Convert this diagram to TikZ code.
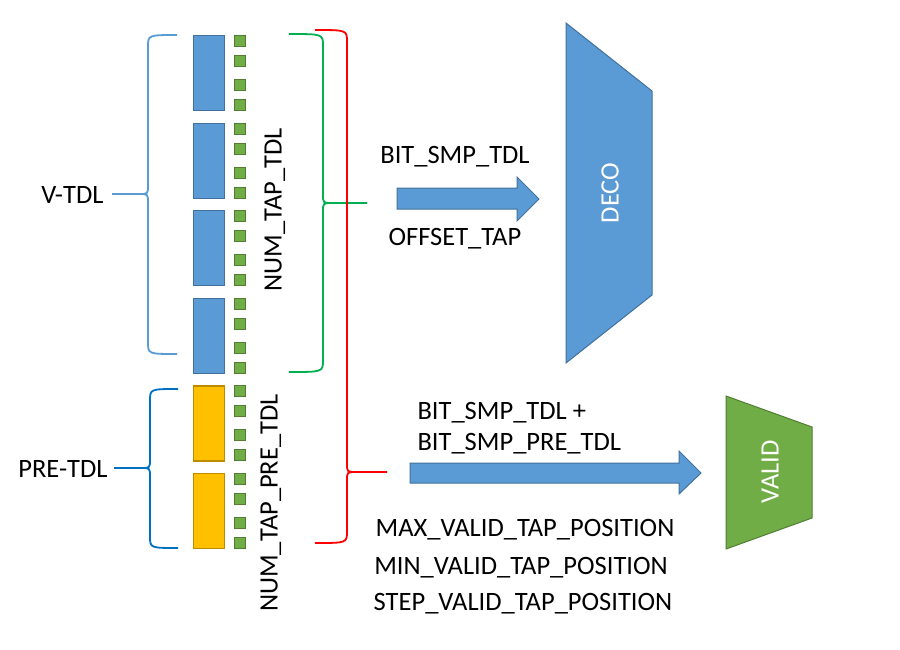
\documentclass[tikz,border=0pt]{standalone}
\usepackage{fontspec}
\setmainfont{Carlito}
\usepackage{tikz}

\definecolor{tdlblue}{RGB}{91,155,213}
\definecolor{tdlblueline}{RGB}{65,113,156}
\definecolor{pregold}{RGB}{255,192,0}
\definecolor{pregoldline}{RGB}{188,140,0}
\definecolor{tapgreen}{RGB}{112,173,71}
\definecolor{tapgreenline}{RGB}{80,126,50}
\definecolor{bracegreen}{RGB}{0,176,80}
\definecolor{braceblue}{RGB}{0,112,192}

% colour, arm x, spine x, top y, bottom y, tip y, tip x, side
\newcommand{\tapbrace}[8]{%
  \draw[#1,line width=1.8pt] (#2,#4) .. controls (#3,#4) .. (#3,#4+12) -- (#3,#6-9)
     .. controls (#3,#6) .. (#3+9*#8,#6) -- (#7,#6);
  \draw[#1,line width=1.8pt] (#2,#5) .. controls (#3,#5) .. (#3,#5-12) -- (#3,#6+9)
     .. controls (#3,#6) .. (#3+9*#8,#6);
}

\begin{document}
\begin{tikzpicture}[x=1pt,y=-1pt,font=\fontsize{26.5}{31}\selectfont,
    delay/.style={draw=tdlblueline,fill=tdlblue,line width=1.2pt,minimum width=31pt,minimum height=75pt,anchor=north west,inner sep=0pt},
    predelay/.style={delay,draw=pregoldline,fill=pregold},
    tap/.style={draw=tapgreenline,fill=tapgreen,line width=1pt,minimum size=11pt,anchor=north west,inner sep=0pt},
    label/.style={text=white,rotate=90}]
\useasboundingbox (0,0) rectangle (900,649);

% delay line blocks and taps
\foreach \b in {0,...,5} {
    \ifnum\b<4
        \node[delay] (block\b) at (193,35+87.6*\b) {};
    \else
        \node[predelay] (block\b) at (193,35+87.6*\b) {};
    \fi
    \foreach \t/\dy in {1/0,2/20,3/44,4/64}
        \node[tap] (tap\b-\t) at (233.5,35+87.6*\b+\dy) {};
}

% braces
\tapbrace{tdlblue}{177}{148}{35}{354}{194}{112}{-1}
\tapbrace{braceblue}{178}{150}{389}{548}{468}{114}{-1}
\tapbrace{bracegreen}{289}{323}{34}{372}{203}{367}{1}
\tapbrace{red}{315}{347}{30}{543}{472}{387}{1}

\node[anchor=east] (vtdl) at (107,195) {V-TDL};
\node[anchor=east] (pretdl) at (111,469) {PRE-TDL};
\node[rotate=90] (numtap) at (275,210) {NUM\_TAP\_TDL};
\node[rotate=90] (numtappre) at (271,503) {NUM\_TAP\_PRE\_TDL};

% decoder
\draw[draw=tdlblueline,fill=tdlblue,line width=1pt] (566,23) -- (652,91) -- (652,295) -- (566,363) -- cycle;
\node[label] (deco) at (610,193) {DECO};
\draw[draw=tdlblueline,fill=tdlblue,line width=1pt] (397,188) -- (517,188) -- (517,177) -- (539,199)
    -- (517,221) -- (517,209) -- (397,209) -- cycle;
\node (bitsmp) at (455,157) {BIT\_SMP\_TDL};
\node (offset) at (455,239) {OFFSET\_TAP};

% valid check
\draw[draw=tapgreenline,fill=tapgreen,line width=1pt] (726,396) -- (812,427) -- (812,518) -- (726,549) -- cycle;
\node[label] (valid) at (770,472) {VALID};
\draw[draw=tdlblueline,fill=tdlblue,line width=1pt] (410,463) -- (679,463) -- (679,451) -- (701,473)
    -- (679,494) -- (679,483) -- (410,483) -- cycle;
\node[anchor=west] (bitsum) at (414,413) {BIT\_SMP\_TDL +};
\node[anchor=west] (bitpre) at (414,444) {BIT\_SMP\_PRE\_TDL};
\node (maxpos) at (525,530) {MAX\_VALID\_TAP\_POSITION};
\node (minpos) at (521,568) {MIN\_VALID\_TAP\_POSITION};
\node (steppos) at (523,604) {STEP\_VALID\_TAP\_POSITION};
\end{tikzpicture}
\end{document}
